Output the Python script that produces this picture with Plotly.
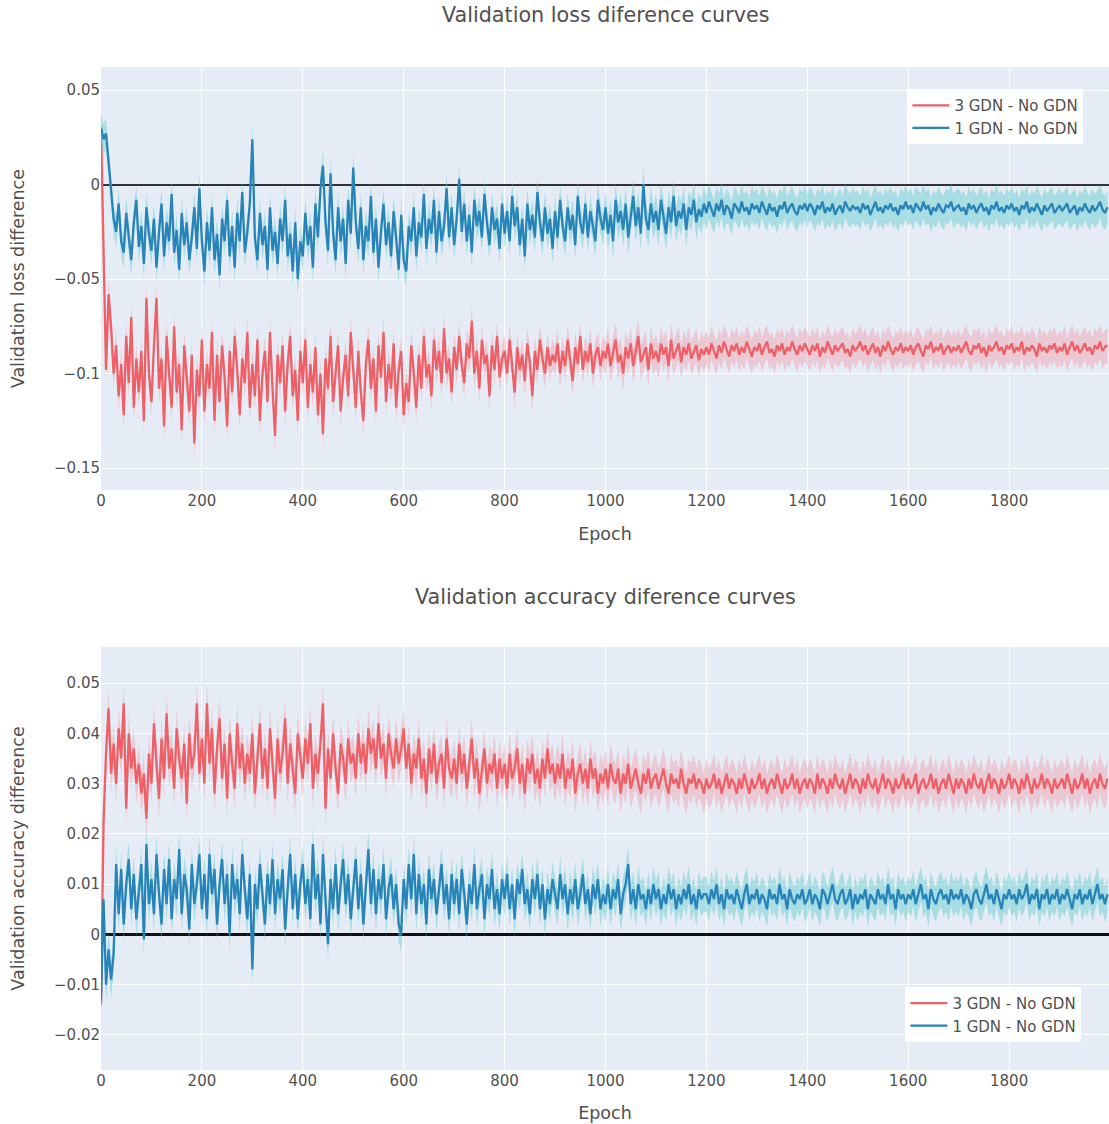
import numpy as np
import plotly.graph_objects as go

# ---------------- data (one value per 5 epochs) ----------------
epochs = list(range(0, 2000, 5))

loss_1gdn = [
    0.030, 0.024, 0.027, 0.012, -0.002, -0.018, -0.025, -0.010, -0.030, -0.036, -0.015, -0.028, -0.040, -0.020, -0.008, -0.033, -0.022, -0.042, -0.012, -0.026,
    -0.035, -0.018, -0.044, -0.025, -0.010, -0.038, -0.020, -0.030, -0.005, -0.036, -0.024, -0.045, -0.015, -0.032, -0.020, -0.040, -0.028, -0.012, -0.034, -0.002,
    -0.030, -0.046, -0.020, -0.035, -0.012, -0.040, -0.026, -0.048, -0.018, -0.030, -0.008, -0.038, -0.022, -0.044, -0.015, -0.030, -0.004, -0.036, -0.025, -0.010,
    0.024, -0.028, -0.040, -0.015, -0.032, -0.022, -0.045, -0.012, -0.035, -0.025, -0.042, -0.018, -0.030, -0.008, -0.038, -0.026, -0.046, -0.020, -0.050, -0.030,
    -0.038, -0.015, -0.032, -0.022, -0.044, -0.010, -0.028, -0.002, 0.010, -0.020, -0.035, 0.006, -0.025, -0.040, -0.012, -0.030, -0.018, -0.042, -0.008, -0.026,
    0.009, -0.020, -0.034, -0.012, -0.040, -0.022, -0.030, -0.006, -0.036, -0.018, -0.044, -0.025, -0.010, -0.032, -0.020, -0.038, -0.014, -0.028, -0.045, -0.016,
    -0.040, -0.046, -0.022, -0.030, -0.012, -0.038, -0.020, -0.028, -0.005, -0.034, -0.018, -0.026, -0.008, -0.036, -0.014, -0.030, -0.022, -0.002, -0.028, -0.012,
    -0.032, -0.018, 0.003, -0.025, -0.010, -0.030, -0.016, -0.036, -0.008, -0.022, -0.014, -0.028, -0.005, -0.020, -0.032, -0.012, -0.024, -0.018, -0.034, -0.010,
    -0.026, -0.014, -0.030, -0.006, -0.022, -0.012, -0.032, -0.018, -0.038, -0.010, -0.024, -0.016, -0.028, -0.004, -0.020, -0.030, -0.012, -0.026, -0.018, -0.034,
    -0.014, -0.028, -0.008, -0.022, -0.030, -0.012, -0.024, -0.016, -0.032, -0.006, -0.020, -0.026, -0.010, -0.028, -0.014, -0.022, -0.030, -0.008, -0.018, -0.024,
    -0.012, -0.026, -0.016, -0.030, -0.008, -0.020, -0.014, -0.024, -0.010, -0.028, -0.016, -0.006, -0.022, -0.012, -0.026, 0.000, -0.018, -0.024, -0.010, -0.020,
    -0.014, -0.024, -0.008, -0.018, -0.026, -0.012, -0.020, -0.006, -0.022, -0.014, -0.018, -0.010, -0.024, -0.012, -0.016, -0.008, -0.020, -0.013, -0.017, -0.010,
    -0.015, -0.009, -0.013, -0.017, -0.010, -0.014, -0.008, -0.016, -0.011, -0.013, -0.018, -0.010, -0.012, -0.015, -0.009, -0.014, -0.012, -0.016, -0.010, -0.013,
    -0.011, -0.015, -0.009, -0.013, -0.016, -0.010, -0.014, -0.012, -0.017, -0.011, -0.013, -0.009, -0.015, -0.012, -0.010, -0.014, -0.016, -0.011, -0.013, -0.010,
    -0.014, -0.010, -0.012, -0.016, -0.011, -0.013, -0.009, -0.015, -0.012, -0.014, -0.010, -0.016, -0.013, -0.011, -0.015, -0.009, -0.012, -0.014, -0.011, -0.013,
    -0.012, -0.015, -0.010, -0.013, -0.011, -0.016, -0.012, -0.009, -0.014, -0.012, -0.015, -0.011, -0.013, -0.010, -0.014, -0.012, -0.016, -0.011, -0.013, -0.009,
    -0.013, -0.011, -0.015, -0.010, -0.012, -0.014, -0.009, -0.013, -0.011, -0.016, -0.012, -0.014, -0.010, -0.013, -0.015, -0.011, -0.012, -0.009, -0.014, -0.012,
    -0.011, -0.014, -0.012, -0.016, -0.010, -0.013, -0.011, -0.015, -0.012, -0.010, -0.014, -0.012, -0.016, -0.011, -0.013, -0.009, -0.014, -0.012, -0.015, -0.011,
    -0.013, -0.010, -0.014, -0.012, -0.016, -0.011, -0.013, -0.009, -0.015, -0.012, -0.014, -0.010, -0.013, -0.016, -0.011, -0.014, -0.012, -0.010, -0.015, -0.013,
    -0.011, -0.014, -0.012, -0.010, -0.015, -0.013, -0.011, -0.016, -0.012, -0.014, -0.010, -0.013, -0.015, -0.011, -0.014, -0.012, -0.009, -0.013, -0.015, -0.012,
]

loss_3gdn = [
    0.030, -0.030, -0.098, -0.058, -0.075, -0.100, -0.085, -0.112, -0.095, -0.122, -0.080, -0.105, -0.070, -0.118, -0.092, -0.110, -0.088, -0.125, -0.060, -0.100,
    -0.115, -0.085, -0.060, -0.108, -0.092, -0.128, -0.080, -0.100, -0.118, -0.075, -0.110, -0.095, -0.130, -0.085, -0.105, -0.120, -0.090, -0.137, -0.098, -0.112,
    -0.082, -0.120, -0.095, -0.108, -0.078, -0.125, -0.090, -0.115, -0.085, -0.102, -0.128, -0.088, -0.110, -0.080, -0.098, -0.122, -0.092, -0.105, -0.078, -0.118,
    -0.095, -0.112, -0.082, -0.125, -0.100, -0.088, -0.115, -0.078, -0.108, -0.133, -0.090, -0.105, -0.085, -0.120, -0.095, -0.080, -0.112, -0.098, -0.125, -0.088,
    -0.105, -0.082, -0.118, -0.095, -0.110, -0.086, -0.122, -0.100, -0.132, -0.092, -0.108, -0.080, -0.115, -0.098, -0.085, -0.120, -0.102, -0.090, -0.112, -0.078,
    -0.100, -0.118, -0.088, -0.110, -0.125, -0.095, -0.082, -0.108, -0.092, -0.120, -0.085, -0.102, -0.078, -0.115, -0.095, -0.108, -0.084, -0.118, -0.098, -0.088,
    -0.122, -0.105, -0.115, -0.085, -0.100, -0.118, -0.090, -0.108, -0.080, -0.102, -0.095, -0.112, -0.082, -0.098, -0.088, -0.105, -0.076, -0.100, -0.092, -0.110,
    -0.086, -0.098, -0.080, -0.095, -0.105, -0.084, -0.092, -0.072, -0.100, -0.088, -0.108, -0.082, -0.095, -0.090, -0.112, -0.085, -0.098, -0.080, -0.102, -0.092,
    -0.088, -0.100, -0.082, -0.095, -0.110, -0.086, -0.098, -0.090, -0.104, -0.084, -0.094, -0.112, -0.088, -0.098, -0.082, -0.092, -0.100, -0.086, -0.096, -0.090,
    -0.094, -0.084, -0.100, -0.088, -0.096, -0.082, -0.092, -0.104, -0.086, -0.095, -0.080, -0.098, -0.088, -0.094, -0.084, -0.100, -0.090, -0.086, -0.096, -0.088,
    -0.092, -0.084, -0.096, -0.088, -0.082, -0.094, -0.090, -0.100, -0.086, -0.092, -0.084, -0.096, -0.088, -0.080, -0.094, -0.090, -0.086, -0.098, -0.084, -0.092,
    -0.088, -0.094, -0.084, -0.090, -0.086, -0.096, -0.082, -0.092, -0.088, -0.084, -0.094, -0.086, -0.090, -0.084, -0.092, -0.088, -0.085, -0.093, -0.087, -0.090,
    -0.086, -0.090, -0.084, -0.088, -0.092, -0.085, -0.089, -0.083, -0.087, -0.091, -0.085, -0.088, -0.084, -0.090, -0.086, -0.089, -0.083, -0.087, -0.091, -0.086,
    -0.088, -0.084, -0.090, -0.086, -0.083, -0.089, -0.087, -0.091, -0.085, -0.088, -0.084, -0.090, -0.086, -0.088, -0.083, -0.087, -0.090, -0.085, -0.088, -0.084,
    -0.087, -0.090, -0.085, -0.088, -0.084, -0.091, -0.086, -0.089, -0.083, -0.087, -0.090, -0.085, -0.088, -0.086, -0.084, -0.089, -0.087, -0.091, -0.085, -0.088,
    -0.086, -0.083, -0.088, -0.085, -0.090, -0.087, -0.084, -0.089, -0.086, -0.091, -0.085, -0.088, -0.083, -0.087, -0.090, -0.086, -0.088, -0.084, -0.089, -0.086,
    -0.088, -0.085, -0.090, -0.086, -0.084, -0.088, -0.091, -0.085, -0.087, -0.083, -0.089, -0.086, -0.088, -0.084, -0.090, -0.087, -0.085, -0.089, -0.086, -0.088,
    -0.085, -0.089, -0.086, -0.083, -0.088, -0.090, -0.085, -0.087, -0.084, -0.089, -0.086, -0.091, -0.085, -0.088, -0.086, -0.083, -0.088, -0.086, -0.090, -0.085,
    -0.087, -0.084, -0.089, -0.086, -0.088, -0.083, -0.090, -0.086, -0.088, -0.085, -0.087, -0.091, -0.084, -0.088, -0.086, -0.089, -0.085, -0.087, -0.084, -0.089,
    -0.086, -0.088, -0.084, -0.090, -0.086, -0.083, -0.088, -0.085, -0.089, -0.087, -0.084, -0.088, -0.086, -0.090, -0.085, -0.087, -0.083, -0.088, -0.086, -0.085,
]

acc_3gdn = [
    -0.014, 0.022, 0.036, 0.045, 0.032, 0.038, 0.030, 0.041, 0.035, 0.046, 0.025, 0.040, 0.033, 0.037, 0.030, 0.034, 0.028, 0.032, 0.023, 0.036,
    0.030, 0.042, 0.034, 0.027, 0.039, 0.031, 0.044, 0.033, 0.037, 0.029, 0.041, 0.035, 0.031, 0.038, 0.026, 0.040, 0.033, 0.036, 0.046, 0.032,
    0.039, 0.030, 0.046, 0.034, 0.041, 0.028, 0.037, 0.043, 0.031, 0.038, 0.027, 0.040, 0.034, 0.029, 0.042, 0.033, 0.038, 0.030, 0.036, 0.032,
    0.040, 0.028, 0.035, 0.042, 0.031, 0.037, 0.029, 0.041, 0.034, 0.027, 0.039, 0.032, 0.036, 0.043, 0.030, 0.038, 0.033, 0.028, 0.040, 0.035,
    0.031, 0.039, 0.034, 0.042, 0.029, 0.036, 0.032, 0.038, 0.046, 0.025, 0.037, 0.031, 0.040, 0.033, 0.028, 0.038, 0.035, 0.030, 0.039, 0.034,
    0.036, 0.031, 0.040, 0.034, 0.038, 0.032, 0.041, 0.036, 0.039, 0.033, 0.042, 0.035, 0.038, 0.031, 0.040, 0.036, 0.033, 0.039, 0.034, 0.037,
    0.041, 0.033, 0.038, 0.030, 0.036, 0.033, 0.039, 0.031, 0.035, 0.028, 0.037, 0.032, 0.038, 0.030, 0.034, 0.036, 0.029, 0.039, 0.033, 0.031,
    0.035, 0.030, 0.038, 0.032, 0.036, 0.029, 0.034, 0.039, 0.031, 0.035, 0.028, 0.033, 0.037, 0.030, 0.034, 0.032, 0.036, 0.029, 0.035, 0.031,
    0.034, 0.029, 0.036, 0.031, 0.033, 0.037, 0.030, 0.034, 0.028, 0.035, 0.032, 0.036, 0.030, 0.033, 0.029, 0.035, 0.031, 0.037, 0.032, 0.034,
    0.030, 0.034, 0.031, 0.036, 0.029, 0.033, 0.031, 0.035, 0.028, 0.032, 0.034, 0.030, 0.033, 0.029, 0.035, 0.031, 0.033, 0.028, 0.032, 0.030,
    0.033, 0.029, 0.034, 0.031, 0.030, 0.033, 0.028, 0.032, 0.030, 0.034, 0.029, 0.031, 0.033, 0.030, 0.028, 0.032, 0.030, 0.033, 0.029, 0.031,
    0.032, 0.029, 0.031, 0.033, 0.030, 0.028, 0.032, 0.030, 0.031, 0.029, 0.033, 0.030, 0.028, 0.031, 0.030, 0.032, 0.029, 0.031, 0.030, 0.028,
    0.031, 0.029, 0.030, 0.032, 0.029, 0.031, 0.028, 0.030, 0.032, 0.029, 0.031, 0.030, 0.028, 0.031, 0.029, 0.032, 0.030, 0.028, 0.031, 0.029,
    0.030, 0.032, 0.029, 0.031, 0.028, 0.030, 0.031, 0.029, 0.032, 0.030, 0.028, 0.031, 0.029, 0.030, 0.032, 0.029, 0.031, 0.028, 0.030, 0.031,
    0.029, 0.031, 0.030, 0.028, 0.032, 0.029, 0.031, 0.030, 0.028, 0.031, 0.029, 0.032, 0.030, 0.029, 0.031, 0.028, 0.030, 0.032, 0.029, 0.031,
    0.030, 0.028, 0.031, 0.029, 0.032, 0.030, 0.029, 0.031, 0.028, 0.030, 0.032, 0.029, 0.031, 0.030, 0.028, 0.031, 0.029, 0.030, 0.032, 0.029,
    0.031, 0.029, 0.030, 0.032, 0.028, 0.030, 0.031, 0.029, 0.030, 0.032, 0.029, 0.031, 0.028, 0.030, 0.031, 0.029, 0.032, 0.030, 0.028, 0.031,
    0.029, 0.031, 0.030, 0.028, 0.031, 0.029, 0.032, 0.030, 0.029, 0.031, 0.028, 0.030, 0.032, 0.029, 0.031, 0.030, 0.028, 0.031, 0.029, 0.030,
    0.032, 0.029, 0.031, 0.030, 0.028, 0.031, 0.029, 0.032, 0.030, 0.028, 0.031, 0.029, 0.030, 0.032, 0.029, 0.031, 0.030, 0.028, 0.031, 0.029,
    0.030, 0.031, 0.029, 0.032, 0.030, 0.028, 0.031, 0.029, 0.030, 0.032, 0.029, 0.031, 0.028, 0.030, 0.031, 0.029, 0.032, 0.030, 0.029, 0.031,
]

acc_1gdn = [
    -0.013, 0.007, -0.010, -0.003, -0.009, -0.004, 0.014, 0.004, 0.013, 0.002, 0.010, 0.015, 0.005, 0.012, 0.003, 0.009, 0.014, -0.001, 0.018, 0.006,
    0.011, 0.004, 0.016, 0.008, 0.002, 0.013, 0.006, 0.015, 0.003, 0.011, 0.007, 0.017, 0.004, 0.012, 0.009, 0.001, 0.014, 0.006, 0.010, 0.016,
    0.005, 0.012, 0.003, 0.016, 0.008, 0.013, 0.002, 0.010, 0.015, 0.006, 0.012, 0.000, 0.014, 0.007, 0.011, 0.004, 0.016, 0.009, 0.003, 0.012,
    -0.007, 0.010, 0.005, 0.014, 0.008, 0.002, 0.012, 0.006, 0.015, 0.004, 0.011, 0.007, 0.013, 0.001, 0.009, 0.016, 0.005, 0.012, 0.003, 0.010,
    0.014, 0.006, 0.011, 0.003, 0.018, 0.007, 0.012, 0.002, 0.016, 0.008, -0.002, 0.011, 0.005, 0.014, 0.004, 0.010, 0.015, 0.006, 0.012, 0.003,
    0.009, 0.015, 0.005, 0.012, 0.002, 0.010, 0.017, 0.006, 0.013, 0.004, 0.011, 0.007, 0.014, 0.003, 0.009, 0.012, 0.005, 0.010, 0.002, 0.000,
    0.011, 0.005, 0.014, 0.007, 0.016, 0.004, 0.012, 0.006, 0.010, 0.002, 0.013, 0.007, 0.011, 0.004, 0.009, 0.014, 0.006, 0.010, 0.003, 0.012,
    0.006, 0.011, 0.004, 0.013, 0.008, 0.002, 0.010, 0.006, 0.014, 0.005, 0.009, 0.012, 0.003, 0.010, 0.007, 0.013, 0.005, 0.009, 0.004, 0.011,
    0.007, 0.012, 0.005, 0.010, 0.003, 0.011, 0.008, 0.013, 0.006, 0.009, 0.004, 0.011, 0.007, 0.012, 0.005, 0.010, 0.003, 0.009, 0.006, 0.011,
    0.008, 0.005, 0.012, 0.007, 0.010, 0.004, 0.009, 0.006, 0.011, 0.005, 0.008, 0.012, 0.006, 0.009, 0.004, 0.010, 0.007, 0.011, 0.005, 0.008,
    0.006, 0.010, 0.005, 0.009, 0.007, 0.011, 0.004, 0.008, 0.010, 0.014, 0.006, 0.009, 0.005, 0.010, 0.007, 0.008, 0.005, 0.009, 0.006, 0.010,
    0.007, 0.009, 0.005, 0.008, 0.006, 0.010, 0.007, 0.009, 0.005, 0.008, 0.006, 0.009, 0.007, 0.010, 0.006, 0.008, 0.005, 0.009, 0.007, 0.008,
    0.008, 0.006, 0.009, 0.007, 0.010, 0.006, 0.008, 0.005, 0.009, 0.007, 0.008, 0.006, 0.009, 0.007, 0.005, 0.008, 0.010, 0.006, 0.008, 0.007,
    0.009, 0.006, 0.008, 0.007, 0.005, 0.009, 0.007, 0.008, 0.006, 0.010, 0.007, 0.008, 0.005, 0.009, 0.007, 0.006, 0.008, 0.007, 0.009, 0.006,
    0.007, 0.009, 0.006, 0.008, 0.007, 0.005, 0.009, 0.008, 0.006, 0.008, 0.010, 0.007, 0.006, 0.008, 0.009, 0.006, 0.007, 0.009, 0.005, 0.008,
    0.006, 0.008, 0.007, 0.009, 0.005, 0.008, 0.007, 0.006, 0.009, 0.007, 0.008, 0.006, 0.010, 0.007, 0.008, 0.005, 0.009, 0.007, 0.008, 0.006,
    0.008, 0.007, 0.009, 0.006, 0.008, 0.010, 0.007, 0.008, 0.005, 0.009, 0.007, 0.006, 0.008, 0.009, 0.007, 0.008, 0.006, 0.009, 0.007, 0.008,
    0.007, 0.009, 0.006, 0.008, 0.007, 0.005, 0.008, 0.009, 0.007, 0.006, 0.008, 0.010, 0.007, 0.008, 0.006, 0.009, 0.007, 0.005, 0.008, 0.007,
    0.009, 0.007, 0.008, 0.006, 0.009, 0.007, 0.008, 0.010, 0.006, 0.008, 0.007, 0.009, 0.005, 0.008, 0.007, 0.009, 0.006, 0.008, 0.007, 0.009,
    0.006, 0.008, 0.007, 0.009, 0.007, 0.005, 0.008, 0.007, 0.009, 0.006, 0.008, 0.007, 0.009, 0.006, 0.008, 0.010, 0.007, 0.008, 0.006, 0.008,
]

# half-width of the shaded band, one value per 100 epochs
band_loss_1gdn = [0.008, 0.008, 0.008, 0.008, 0.008, 0.008, 0.008, 0.008, 0.008, 0.008,
                  0.009, 0.009, 0.009, 0.009, 0.009, 0.009, 0.009, 0.009, 0.009, 0.009]
band_loss_3gdn = [0.008, 0.008, 0.008, 0.008, 0.008, 0.008, 0.008, 0.008, 0.008, 0.008,
                  0.009, 0.009, 0.009, 0.009, 0.009, 0.009, 0.009, 0.009, 0.009, 0.009]
band_acc_3gdn = [0.004, 0.004, 0.004, 0.004, 0.004, 0.004, 0.004, 0.004, 0.004, 0.004,
                 0.004, 0.004, 0.004, 0.004, 0.004, 0.004, 0.004, 0.004, 0.004, 0.004]
band_acc_1gdn = [0.0035, 0.0035, 0.0035, 0.0035, 0.0035, 0.0035, 0.0035, 0.0035, 0.0035, 0.0035,
                 0.0035, 0.0035, 0.0035, 0.0035, 0.0035, 0.0035, 0.0035, 0.0035, 0.0035, 0.0035]

series_names = ["3 GDN - No GDN", "1 GDN - No GDN"]
titles = ["Validation loss diference curves", "Validation accuracy diference curves"]
ytitles = ["Validation loss difference", "Validation accuracy difference"]

# ---------------- styles ----------------
RED = "rgb(238,96,102)"
BLUE = "rgb(38,132,184)"
RED_FILL = "rgba(242,160,170,0.45)"
BLUE_FILL = "rgba(110,205,210,0.50)"
FONT = "DejaVu Sans"
TXT = "#505050"

fig = go.Figure()


def add_series(xa, ya, y, hw, color, fill, name, legend):
    y = np.array(y)
    hw = np.repeat(np.array(hw), 20)
    fig.add_trace(go.Scatter(x=epochs, y=y - hw, mode="lines", line=dict(width=0),
                             xaxis=xa, yaxis=ya, showlegend=False, hoverinfo="skip"))
    fig.add_trace(go.Scatter(x=epochs, y=y + hw, mode="lines", line=dict(width=0),
                             fill="tonexty", fillcolor=fill,
                             xaxis=xa, yaxis=ya, showlegend=False, hoverinfo="skip"))
    fig.add_trace(go.Scatter(x=epochs, y=y, mode="lines", name=name,
                             line=dict(color=color, width=2.3),
                             xaxis=xa, yaxis=ya, legend=legend, showlegend=True))


add_series("x", "y", loss_3gdn, band_loss_3gdn, RED, RED_FILL, series_names[0], "legend")
add_series("x", "y", loss_1gdn, band_loss_1gdn, BLUE, BLUE_FILL, series_names[1], "legend")
add_series("x2", "y2", acc_3gdn, band_acc_3gdn, RED, RED_FILL, series_names[0], "legend2")
add_series("x2", "y2", acc_1gdn, band_acc_1gdn, BLUE, BLUE_FILL, series_names[1], "legend2")

axis_common = dict(gridcolor="white", gridwidth=1, tickfont=dict(size=15, family=FONT, color=TXT),
                   title_font=dict(size=17.5, family=FONT, color=TXT))

fig.update_layout(
    template="plotly",
    width=1109, height=1124,
    margin=dict(l=101, r=0, t=67, b=54),
    paper_bgcolor="white",
    plot_bgcolor="#E5ECF6",
    font=dict(family=FONT, color=TXT),
    xaxis=dict(domain=[0, 1], anchor="y", range=[0, 1998], dtick=200, tick0=0,
               title=dict(text="Epoch", standoff=18), zeroline=False, **axis_common),
    yaxis=dict(domain=[0.578, 1.0], anchor="x", range=[-0.1617, 0.0622], dtick=0.05,
               title=dict(text=ytitles[0], standoff=24), zeroline=True,
               zerolinecolor="#333", zerolinewidth=2, **axis_common),
    xaxis2=dict(domain=[0, 1], anchor="y2", range=[0, 1998], dtick=200, tick0=0,
                title=dict(text="Epoch", standoff=17), zeroline=False, **axis_common),
    yaxis2=dict(domain=[0.0, 0.4217], anchor="x2", range=[-0.027, 0.0572], dtick=0.01,
                title=dict(text=ytitles[1], standoff=24), zeroline=True,
                zerolinecolor="#111", zerolinewidth=2.5, **axis_common),
    legend=dict(x=0.80, y=0.978, xanchor="left", yanchor="top", bgcolor="white",
                traceorder="normal", itemwidth=37, font=dict(size=15, family=FONT, color=TXT)),
    legend2=dict(x=0.798, y=0.0828, xanchor="left", yanchor="top", bgcolor="white",
                 traceorder="normal", itemwidth=37, font=dict(size=15, family=FONT, color=TXT)),
    annotations=[
        dict(text=titles[0], x=0.5, y=1.052, xref="paper", yref="paper", showarrow=False,
             xanchor="center", yanchor="middle", font=dict(size=20.7, family=FONT, color=TXT)),
        dict(text=titles[1], x=0.5, y=0.4716, xref="paper", yref="paper", showarrow=False,
             xanchor="center", yanchor="middle", font=dict(size=20.7, family=FONT, color=TXT)),
    ],
)

# remove the default 8px page margin so the figure fills the window exactly
fig.write_html("out.html",
               config={"displayModeBar": False},
               post_script="document.body.style.margin='0px';document.body.style.overflow='hidden';")
